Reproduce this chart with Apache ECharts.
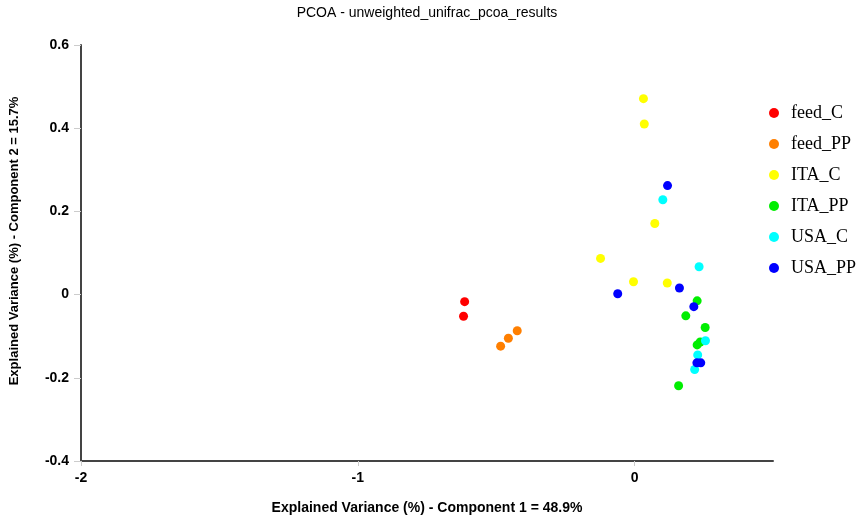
<!DOCTYPE html>
<html>
<head>
<meta charset="utf-8">
<script src="https://cdn.jsdelivr.net/npm/echarts@6/dist/echarts.min.js"></script>
<style>html,body{margin:0;padding:0;background:#fff}#c{width:865px;height:520px}</style>
</head>
<body>
<div id="c"></div>
<script>
var titleText = 'PCOA - unweighted_unifrac_pcoa_results';
var xName = 'Explained Variance (%) - Component 1 = 48.9%';
var yName = 'Explained Variance (%) - Component 2 = 15.7%';
var groupNames = ['feed_C', 'feed_PP', 'ITA_C', 'ITA_PP', 'USA_C', 'USA_PP'];
var groupColors = ['#ff0000', '#ff7f00', '#ffff00', '#00ee00', '#00ffff', '#0000ff'];
var xTicks = [-2, -1, 0];
var yTicks = [-0.4, -0.2, 0, 0.2, 0.4, 0.6];

var feed_C = [[-0.614, -0.017], [-0.618, -0.052]];
var feed_PP = [[-0.424, -0.087], [-0.456, -0.105], [-0.484, -0.124]];
var ITA_C = [[0.032, 0.471], [0.035, 0.410], [0.073, 0.171], [-0.123, 0.087], [-0.004, 0.031], [0.118, 0.028]];
var ITA_PP = [[0.226, -0.015], [0.185, -0.051], [0.255, -0.079], [0.237, -0.114], [0.226, -0.121], [0.159, -0.219]];
var USA_C = [[0.102, 0.228], [0.233, 0.067], [0.256, -0.111], [0.228, -0.145], [0.217, -0.180]];
var USA_PP = [[0.119, 0.262], [0.162, 0.016], [-0.061, 0.002], [0.214, -0.029], [0.225, -0.164], [0.239, -0.164]];
var groupData = [feed_C, feed_PP, ITA_C, ITA_PP, USA_C, USA_PP];

var series = groupNames.map(function (n, i) {
  return {
    name: n, type: 'scatter', data: groupData[i], symbol: 'circle', symbolSize: 9,
    itemStyle: { color: groupColors[i], opacity: 1 }
  };
});

var chart = echarts.init(document.getElementById('c'), null, { renderer: 'canvas' });
chart.setOption({
  animation: false,
  backgroundColor: '#fff',
  title: {
    text: titleText, left: 422, top: 1, textAlign: 'center',
    textStyle: { fontFamily: 'Liberation Sans, Arial, sans-serif', fontSize: 14, fontWeight: 'normal', color: '#000' }
  },
  legend: {
    orient: 'vertical', left: 764, top: 99, itemWidth: 24, itemHeight: 10, itemGap: 13,
    icon: 'circle',
    textStyle: { fontFamily: 'Liberation Serif, Times New Roman, serif', fontSize: 18, lineHeight: 18, color: '#000' }
  },
  grid: { left: 79, right: 92, top: 45, bottom: 55, containLabel: false },
  xAxis: {
    type: 'value', min: -2, max: 0.5, interval: 1,
    name: xName, nameLocation: 'middle', nameGap: 40,
    nameTextStyle: { fontFamily: 'Liberation Sans, Arial, sans-serif', fontSize: 14, fontWeight: 'bold', color: '#000' },
    axisLine: { show: true, onZero: false, lineStyle: { color: '#444', width: 2 } },
    axisTick: { show: true, length: 5, lineStyle: { color: '#ccc' }, customValues: xTicks },
    axisLabel: { customValues: xTicks, margin: 10, fontFamily: 'Liberation Sans, Arial, sans-serif', fontSize: 14, fontWeight: 'bold', color: '#000' },
    splitLine: { show: false }
  },
  yAxis: {
    type: 'value', min: -0.4, max: 0.6, interval: 0.2,
    name: yName, nameLocation: 'middle', nameGap: 60, nameRotate: 90,
    nameTextStyle: { fontFamily: 'Liberation Sans, Arial, sans-serif', fontSize: 13, fontWeight: 'bold', color: '#000', padding: [0, 0, 0, 24] },
    axisLine: { show: true, onZero: false, lineStyle: { color: '#444', width: 2 } },
    axisTick: { show: true, length: 7, lineStyle: { color: '#ccc' }, customValues: yTicks },
    axisLabel: {
      customValues: yTicks, margin: 12, fontFamily: 'Liberation Sans, Arial, sans-serif', fontSize: 14, fontWeight: 'bold', color: '#000',
      formatter: function (v) { return String(Math.round(v * 10) / 10); }
    },
    splitLine: { show: false }
  },
  series: series
});
</script>
</body>
</html>
